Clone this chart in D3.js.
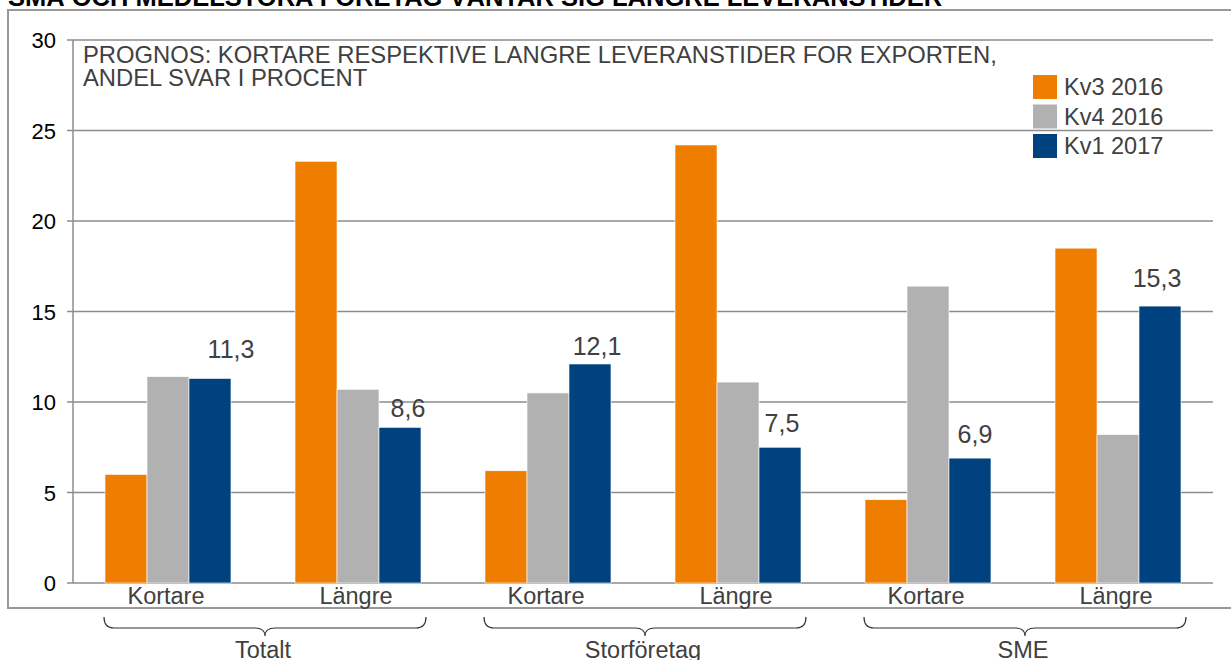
<!DOCTYPE html>
<html>
<head>
<meta charset="utf-8">
<script src="https://cdn.jsdelivr.net/npm/d3@7"></script>
<style>
  body { margin: 0; background: #fff; }
  text { font-family: "Liberation Sans", Arial, sans-serif; }
</style>
</head>
<body>
<div id="chart"></div>
<script>
const categories = ['Kortare', 'Längre', 'Kortare', 'Längre', 'Kortare', 'Längre'];
const groups = ['Totalt', 'Storföretag', 'SME'];
const seriesNames = ['Kv3 2016', 'Kv4 2016', 'Kv1 2017'];
const kv3_2016 = [6.0, 23.3, 6.2, 24.2, 4.6, 18.5];
const kv4_2016 = [11.4, 10.7, 10.5, 11.1, 16.4, 8.2];
const kv1_2017 = [11.3, 8.6, 12.1, 7.5, 6.9, 15.3];
const yTicks = [0, 5, 10, 15, 20, 25, 30];

const colors = ['#EE7D00', '#B1B1B1', '#00427F'];
// hand placed label offsets (dx, dy above the bar) as in the original
const labelNudge = [[21, 20], [8, 10], [7, 9], [2, 15], [5, 15], [-3, 19]];

const width = 1231, height = 660;
const svg = d3.select('#chart').append('svg')
    .attr('width', width)
    .attr('height', height);

// outer frame
svg.append('rect')
    .attr('x', 8).attr('y', 10)
    .attr('width', 1260).attr('height', 598)
    .attr('fill', 'none')
    .attr('stroke', '#999')
    .attr('stroke-width', 2);

// clipped title at the very top
svg.append('text')
    .attr('x', 8).attr('y', 6)
    .attr('font-size', 25.5)
    .attr('font-weight', 'bold')
    .attr('fill', '#000')
    .text('SMÅ OCH MEDELSTORA FÖRETAG VÄNTAR SIG LÄNGRE LEVERANSTIDER');

const x0 = d3.scaleBand()
    .domain(d3.range(categories.length))
    .range([73, 1213])
    .paddingInner(0.337)
    .paddingOuter(0.1685);

const x1 = d3.scaleBand()
    .domain(d3.range(seriesNames.length))
    .range([0, x0.bandwidth()]);

const y = d3.scaleLinear()
    .domain([0, 30])
    .range([583, 40]);

// gridlines
svg.append('g')
    .selectAll('line')
    .data(yTicks)
    .enter()
    .append('line')
    .attr('x1', 67).attr('x2', 1213)
    .attr('y1', d => y(d)).attr('y2', d => y(d))
    .attr('stroke', '#8c8c8c')
    .attr('stroke-width', 1.5);

svg.append('line')
    .attr('x1', 73).attr('x2', 73)
    .attr('y1', y(30)).attr('y2', y(0))
    .attr('stroke', '#8c8c8c')
    .attr('stroke-width', 1.5);

svg.append('g')
    .selectAll('text')
    .data(yTicks)
    .enter()
    .append('text')
    .attr('x', 56)
    .attr('y', d => y(d) + 8)
    .attr('text-anchor', 'end')
    .attr('font-size', 22)
    .attr('fill', '#000')
    .text(d => d);

// annotation text
const note = svg.append('text')
    .attr('font-size', 23.8)
    .attr('fill', '#404040');
note.append('tspan').attr('x', 83).attr('y', 63)
    .text('PROGNOS: KORTARE RESPEKTIVE LANGRE LEVERANSTIDER FOR EXPORTEN,');
note.append('tspan').attr('x', 83).attr('y', 86)
    .text('ANDEL SVAR I PROCENT');

// bars
const seriesValues = [kv3_2016, kv4_2016, kv1_2017];
const barGroups = svg.append('g')
    .selectAll('g')
    .data(categories.map((c, i) => i))
    .enter()
    .append('g')
    .attr('transform', i => `translate(${x0(i)},0)`);

barGroups.selectAll('rect')
    .data(i => seriesValues.map((vals, s) => ({ s, v: vals[i] })))
    .enter()
    .append('rect')
    .attr('x', d => x1(d.s))
    .attr('y', d => y(d.v))
    .attr('width', x1.bandwidth())
    .attr('height', d => y(0) - y(d.v))
    .attr('fill', d => colors[d.s])
    .attr('stroke', '#fff')
    .attr('stroke-width', 0.6);

// value labels on Kv1 2017
svg.append('g')
    .selectAll('text')
    .data(kv1_2017)
    .enter()
    .append('text')
    .attr('x', (d, i) => x0(i) + x1(2) + x1.bandwidth() / 2 + labelNudge[i][0])
    .attr('y', (d, i) => y(d) - labelNudge[i][1])
    .attr('text-anchor', 'middle')
    .attr('font-size', 25)
    .attr('fill', '#404040')
    .text(d => d3.format('.1f')(d).replace('.', ','));

// category labels
svg.append('g')
    .selectAll('text')
    .data(categories)
    .enter()
    .append('text')
    .attr('x', (d, i) => x0(i) + x0.bandwidth() / 2 - 2)
    .attr('y', 604)
    .attr('text-anchor', 'middle')
    .attr('font-size', 23.5)
    .attr('fill', '#404040')
    .text(d => d);

// braces and group labels
function brace(xa, xb, top, mid, tip) {
    const xc = (xa + xb) / 2, r = 10;
    return `M${xa},${top} Q${xa},${mid} ${xa + r},${mid} L${xc - r},${mid} ` +
        `Q${xc},${mid} ${xc},${tip} Q${xc},${mid} ${xc + r},${mid} ` +
        `L${xb - r},${mid} Q${xb},${mid} ${xb},${top}`;
}

groups.forEach((g, k) => {
    const xa = x0(2 * k) - 1;
    const xb = x0(2 * k + 1) + x0.bandwidth() + 5;
    svg.append('path')
        .attr('d', brace(xa, xb, 617, 628, 636))
        .attr('fill', 'none')
        .attr('stroke', '#333')
        .attr('stroke-width', 1.2);
    svg.append('text')
        .attr('x', (xa + xb) / 2 - 2)
        .attr('y', 658)
        .attr('text-anchor', 'middle')
        .attr('font-size', 23.5)
        .attr('fill', '#404040')
        .text(g);
});

// legend
const legend = svg.append('g')
    .selectAll('g')
    .data(seriesNames)
    .enter()
    .append('g')
    .attr('transform', (d, i) => `translate(1033,${75 + i * 29.5})`);

legend.append('rect')
    .attr('width', 24).attr('height', 24)
    .attr('fill', (d, i) => colors[i]);

legend.append('text')
    .attr('x', 31).attr('y', 20)
    .attr('font-size', 23.5)
    .attr('fill', '#404040')
    .text(d => d);
</script>
</body>
</html>
